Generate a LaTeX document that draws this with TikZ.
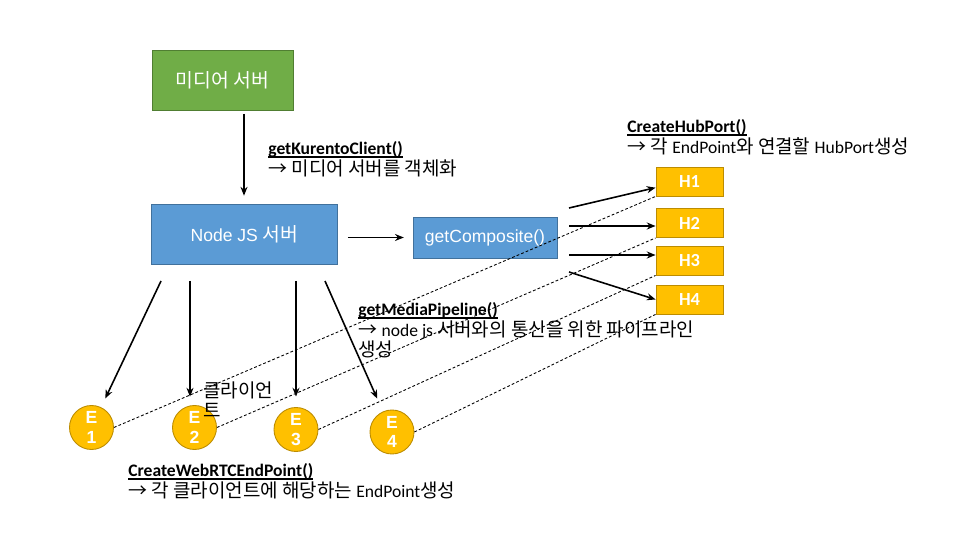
\documentclass[tikz,border=0pt]{standalone}
\usepackage{fontspec}
\setmainfont{Carlito}
\newfontfamily\krfont{Noto Sans CJK KR}[Scale=1.08]
\newfontfamily\krbox{Noto Sans CJK KR}[Scale=1.1]
\newfontfamily\boxfont{Liberation Sans}
\usetikzlibrary{
    arrows.meta,
    positioning
}
\definecolor{mediaGreen}{RGB}{112,173,71}
\definecolor{greenLine}{RGB}{80,126,50}
\definecolor{nodeBlue}{RGB}{91,155,213}
\definecolor{blueLine}{RGB}{65,113,156}
\definecolor{hubYellow}{RGB}{255,192,0}
\definecolor{yellowLine}{RGB}{188,140,0}
\newcommand\kr[1]{{\krfont #1}}
\newcommand\ulbf[1]{\setbox0\hbox{\bfseries #1}\rlap{\rule[-1.8pt]{\wd0}{0.75pt}}\box0}
\tikzset{
  mbox/.style     = {draw=greenLine, fill=mediaGreen, line width=0.5pt,
                     minimum width=2.82cm, minimum height=1.2cm, text=white,
                     font=\krbox\fontsize{10}{12}\selectfont},
  nbox/.style     = {draw=blueLine, fill=nodeBlue, line width=0.5pt,
                     minimum width=3.72cm, minimum height=1.2cm, text=white,
                     font=\boxfont\fontsize{10}{12}\selectfont},
  hubbox/.style   = {draw=yellowLine, fill=hubYellow, line width=0.5pt,
                     minimum width=1.34cm, minimum height=0.58cm, text=white,
                     font=\bfseries\fontsize{10.5}{12}\selectfont},
  epcircle/.style = {circle, draw=yellowLine, fill=hubYellow, line width=0.5pt,
                     minimum size=0.88cm, inner sep=0pt, text=white, align=center,
                     font=\boxfont\bfseries\fontsize{10}{11.3}\selectfont},
  lbl/.style      = {anchor=north west, inner sep=0pt, align=left,
                     font=\fontsize{10}{11.8}\selectfont},
  arr/.style      = {-{Stealth[length=5pt,width=4pt]}, line width=0.9pt},
  link/.style     = {dash pattern=on 1.6pt off 1.2pt, line width=0.5pt}
}

\begin{document}
\begin{tikzpicture}[x=0.02cm, y=-0.02cm]
\fill[white] (0,0) rectangle (960,540);
\useasboundingbox (0,0) rectangle (960,540);
% servers
\node[mbox] (media) at (222.5,80) {미디어 서버};
\node[nbox] (njs) at (244.5,234) {Node JS \krbox 서버};
\node[nbox, minimum width=2.88cm, minimum height=0.82cm] (comp) at (485,237.5) {getComposite()};
% hub ports
\node[hubbox] (h1) at (689.5,181.5) {H1};
\node[hubbox] (h2) at (689.5,223) {H2};
\node[hubbox] (h3) at (689.5,260.5) {H3};
\node[hubbox] (h4) at (689.5,299.5) {H4};
% end points
\node[epcircle] (e1) at (91.5,427.5) {E\\1};
\node[epcircle] (e2) at (194.5,427.5) {E\\2};
\node[epcircle] (e3) at (296,429.5) {E\\3};
\node[epcircle] (e4) at (392,432) {E\\4};
% labels
\node[lbl] (kurento) at (268,141) {\ulbf{getKurentoClient()}\\\kr{→ 미디어 서버를 객체화}};
\node[lbl] (hubport) at (627,119) {\ulbf{CreateHubPort()}\\\kr{→ 각 }EndPoint\kr{와 연결할 }HubPort\kr{생성}};
\node[lbl] (pipeline) at (358,302) {\ulbf{getMediaPipeline()}\\\kr{→ }node js \kr{서버와의 통신을 위한 파이프라인}\\\kr{생성}};
\node[lbl] (client) at (203,381) {\kr{클라이언}\\\kr{트}};
\node[lbl] (webrtc) at (128,463) {\ulbf{CreateWebRTCEndPoint()}\\\kr{→ 각 클라이언트에 해당하는 }EndPoint\kr{생성}};
% media server -> node js -> composite
\coordinate (kx) at (244,0);
\draw[arr, shorten <=2pt, shorten >=4.5pt] (media.south -| kx) -- (njs.north -| kx);
\draw[arr, shorten <=5.7pt, shorten >=5pt] (njs.east |- comp.west) -- (comp.west);
% composite -> hub ports
\coordinate (c1) at (569,208);
\coordinate (c2) at (569,226);
\coordinate (c3) at (569,255);
\coordinate (c4) at (569,272);
\draw[arr] (c1) -- ([yshift=-3.5pt]h1.west);
\draw[arr] (c2) -- (c2 -| h2.west);
\draw[arr] (c3) -- (c3 -| h3.west);
\draw[arr] (c4) -- (h4.west);
% node js -> end points
\coordinate (s1) at (161,281);
\coordinate (s2) at (190,281);
\coordinate (s3) at (296,281);
\coordinate (s4) at (325,281);
\draw[arr, shorten >=5.5pt] (s1) -- (e1);
\draw[arr, shorten >=4.8pt] (s2) -- (s2 |- e2.north);
\draw[arr, shorten >=6pt] (s3) -- (e3);
\draw[arr, shorten >=8pt] (s4) -- (e4);
% end point <-> hub port
\draw[link] (e1.east) -- (h1.south west);
\draw[link] (e2.east) -- (h2.south west);
\draw[link] (e3.east) -- (h3.south west);
\draw[link] (e4.east) -- (h4.south west);
\end{tikzpicture}
\end{document}
